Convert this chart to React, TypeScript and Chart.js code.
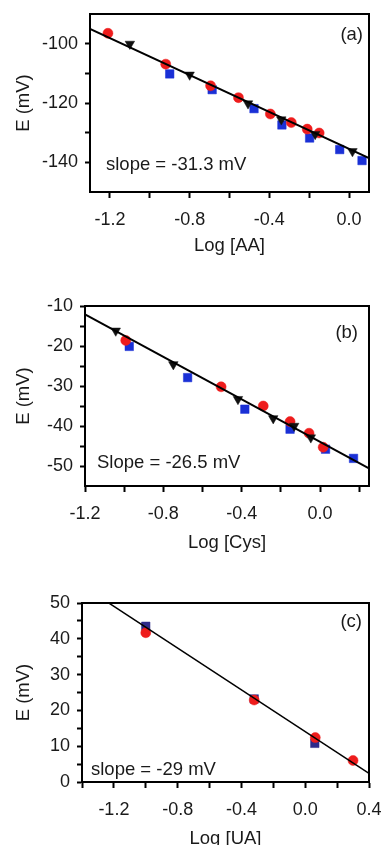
import React, { useEffect, useRef } from 'react';
import { Chart, registerables } from 'chart.js';

Chart.register(...registerables);

// ---------- Panel (a): Log [AA] ----------
const aaRedX = [-1.21, -0.92, -0.695, -0.555, -0.395, -0.29, -0.21, -0.15];
const aaRedY = [-96.5, -106.9, -114.2, -118.2, -123.7, -126.6, -128.8, -130.1];
const aaBlueX = [-0.9, -0.687, -0.477, -0.337, -0.198, -0.047, 0.065];
const aaBlueY = [-110.2, -115.5, -121.9, -127.4, -131.8, -135.7, -139.4];
const aaTriX = [-1.1, -0.8, -0.507, -0.34, -0.17, 0.017];
const aaTriY = [-100.1, -110.5, -120.2, -125.6, -130.5, -136.3];
const aaFitX = [-1.3, 0.1];
const aaFitY = [-95.0, -138.6];
const aaXTicks = [-1.2, -1.0, -0.8, -0.6, -0.4, -0.2, 0.0];
const aaXLabels = [-1.2, -0.8, -0.4, 0.0];
const aaYTicks = [-140, -130, -120, -110, -100];
const aaYLabels = [-140, -120, -100];

// ---------- Panel (b): Log [Cys] ----------
const cysRedX = [-0.992, -0.505, -0.29, -0.153, -0.056, 0.016];
const cysRedY = [-18.6, -30.2, -35.0, -38.9, -41.8, -45.3];
const cysBlueX = [-0.974, -0.676, -0.384, -0.153, 0.028, 0.171];
const cysBlueY = [-20.1, -27.9, -35.8, -40.8, -45.8, -48.1];
const cysTriX = [-1.043, -0.749, -0.419, -0.239, -0.132, -0.047];
const cysTriY = [-16.2, -24.6, -33.3, -38.1, -40.0, -42.9];
const cysFitX = [-1.2, 0.25];
const cysFitY = [-12.1, -50.6];
const cysXTicks = [-1.2, -1.0, -0.8, -0.6, -0.4, -0.2, 0.0, 0.2];
const cysXLabels = [-1.2, -0.8, -0.4, 0.0];
const cysYTicks = [-50, -45, -40, -35, -30, -25, -20, -15, -10];
const cysYLabels = [-50, -40, -30, -20, -10];

// ---------- Panel (c): Log [UA] ----------
const uaRedX = [-1.0, -0.32, 0.063, 0.3];
const uaRedY = [41.7, 22.9, 12.4, 6.0];
const uaBlueX = [-1.0, -0.32, 0.06];
const uaBlueY = [43.5, 23.2, 10.8];
const uaFitX = [-1.4, 0.4];
const uaFitY = [54.9, 2.4];
const uaXTicks = [-1.4, -1.2, -1.0, -0.8, -0.6, -0.4, -0.2, 0.0, 0.2, 0.4];
const uaXLabels = [-1.2, -0.8, -0.4, 0.0, 0.4];
const uaYTicks = [0, 5, 10, 15, 20, 25, 30, 35, 40, 45, 50];
const uaYLabels = [0, 10, 20, 30, 40, 50];

const FONT = "'Liberation Sans', Arial, sans-serif";
const TEXT = '#1a1a1a';
const RED = '#ee1c1c';
const BLUE = '#1a30d6';
const NAVY = '#2e2a8a';

const zip = (xs: number[], ys: number[]) => xs.map((x, i) => ({ x, y: ys[i] }));
const near = (a: number, list: number[]) => list.some((v) => Math.abs(v - a) < 1e-6);

type Series = { x: number[]; y: number[]; kind: 'circle' | 'square' | 'tri'; color: string };

type PanelProps = {
  top: number;
  height: number;
  padTop: number;
  yWidth: number;
  xHeight: number;
  xTitlePadBottom: number;
  xMin: number;
  xMax: number;
  yMin: number;
  yMax: number;
  xTicks: number[];
  xLabels: number[];
  yTicks: number[];
  yLabels: number[];
  xTitle: string;
  series: Series[];
  fitX: number[];
  fitY: number[];
  fitWidth: number;
  slopeText: string;
  slopeDx: number;
  slopeDy: number;
  tag: string;
  tagDx: number;
  tagDy: number;
};

function Panel(p: PanelProps) {
  const ref = useRef<HTMLCanvasElement | null>(null);
  useEffect(() => {
    if (!ref.current) return;
    const datasets: any[] = [
      {
        data: zip(p.fitX, p.fitY),
        showLine: true,
        borderColor: '#000',
        borderWidth: p.fitWidth,
        pointRadius: 0,
        fill: false,
      },
    ];
    const order = ['tri', 'circle', 'square'];
    const sorted = [...p.series].sort((a, b) => order.indexOf(a.kind) - order.indexOf(b.kind));
    for (const s of sorted) {
      datasets.push({
        data: zip(s.x, s.y),
        showLine: false,
        pointStyle: s.kind === 'circle' ? 'circle' : s.kind === 'square' ? 'rect' : 'triangle',
        pointRotation: s.kind === 'tri' ? 180 : 0,
        pointRadius: s.kind === 'circle' ? 5 : s.kind === 'square' ? 6 : 5.5,
        backgroundColor: s.color,
        borderColor: s.color,
        pointBorderWidth: 0.5,
      });
    }
    const annot = {
      id: 'annot',
      afterDraw(chart: any) {
        const { ctx, chartArea } = chart;
        ctx.save();
        ctx.strokeStyle = '#000';
        ctx.lineWidth = 2;
        ctx.strokeRect(chartArea.left, chartArea.top, chartArea.right - chartArea.left, chartArea.bottom - chartArea.top);
        ctx.fillStyle = TEXT;
        ctx.font = `18.5px ${FONT}`;
        ctx.textBaseline = 'middle';
        ctx.textAlign = 'left';
        ctx.fillText(p.slopeText, chartArea.left + p.slopeDx, chartArea.top + p.slopeDy);
        ctx.textAlign = 'right';
        ctx.fillText(p.tag, chartArea.right - p.tagDx, chartArea.top + p.tagDy);
        ctx.restore();
      },
    };
    const chart = new Chart(ref.current, {
      type: 'scatter',
      data: { datasets },
      plugins: [annot],
      options: {
        animation: false,
        responsive: false,
        devicePixelRatio: 1,
        events: [],
        layout: { padding: { top: p.padTop, right: 12, bottom: 0, left: 0 } },
        plugins: { legend: { display: false }, tooltip: { enabled: false } },
        scales: {
          x: {
            type: 'linear',
            min: p.xMin,
            max: p.xMax,
            afterBuildTicks: (scale: any) => {
              scale.ticks = p.xTicks.map((v) => ({ value: v }));
            },
            afterFit: (scale: any) => {
              scale.height = p.xHeight;
              scale.paddingLeft = 0;
              scale.paddingRight = 0;
            },
            ticks: {
              autoSkip: false,
              maxRotation: 0,
              padding: 11.5,
              color: TEXT,
              font: { family: FONT, size: 18 },
              callback: (v: any) => (near(Number(v), p.xLabels) ? Number(v).toFixed(1) : ''),
            },
            grid: {
              display: true,
              drawOnChartArea: false,
              drawTicks: true,
              tickLength: 6,
              tickWidth: 2,
              tickColor: '#000',
            },
            border: { display: true, color: '#000', width: 2 },
            title: {
              display: true,
              text: p.xTitle,
              color: TEXT,
              font: { family: FONT, size: 18.5 },
              padding: { top: 0, bottom: p.xTitlePadBottom },
            },
          },
          y: {
            type: 'linear',
            min: p.yMin,
            max: p.yMax,
            afterBuildTicks: (scale: any) => {
              scale.ticks = p.yTicks.map((v) => ({ value: v }));
            },
            afterFit: (scale: any) => {
              scale.width = p.yWidth;
              scale.paddingTop = 0;
              scale.paddingBottom = 0;
            },
            ticks: {
              autoSkip: false,
              padding: 7,
              color: TEXT,
              font: { family: FONT, size: 18 },
              callback: (v: any) => (near(Number(v), p.yLabels) ? String(Math.round(Number(v))) : ''),
            },
            grid: {
              display: true,
              drawOnChartArea: false,
              drawTicks: true,
              tickLength: 5,
              tickWidth: 2,
              tickColor: '#000',
            },
            border: { display: true, color: '#000', width: 2 },
            title: {
              display: true,
              text: 'E (mV)',
              color: TEXT,
              font: { family: FONT, size: 18.5 },
              padding: { top: 13, bottom: 0 },
            },
          },
        },
      } as any,
    });
    return () => chart.destroy();
  }, []);
  return (
    <canvas
      ref={ref}
      width={381}
      height={p.height}
      style={{ position: 'absolute', left: 0, top: p.top, width: 381, height: p.height, display: 'block' }}
    />
  );
}

export default function App() {
  useEffect(() => {
    document.body.style.margin = '0';
    document.body.style.background = '#fff';
  }, []);
  return (
    <div style={{ position: 'relative', width: 381, height: 845, overflow: 'hidden', background: '#fff' }}>
      <Panel
        top={0}
        height={265}
        padTop={14}
        yWidth={90}
        xHeight={73}
        xTitlePadBottom={8}
        xMin={-1.3}
        xMax={0.1}
        yMin={-150}
        yMax={-90}
        xTicks={aaXTicks}
        xLabels={aaXLabels}
        yTicks={aaYTicks}
        yLabels={aaYLabels}
        xTitle="Log [AA]"
        series={[
          { x: aaBlueX, y: aaBlueY, kind: 'square', color: BLUE },
          { x: aaRedX, y: aaRedY, kind: 'circle', color: RED },
          { x: aaTriX, y: aaTriY, kind: 'tri', color: '#111' },
        ]}
        fitX={aaFitX}
        fitY={aaFitY}
        fitWidth={2}
        slopeText="slope = -31.3 mV"
        slopeDx={16}
        slopeDy={151}
        tag="(a)"
        tagDx={6}
        tagDy={21}
      />
      <Panel
        top={265}
        height={290}
        padTop={41}
        yWidth={85}
        xHeight={69}
        xTitlePadBottom={1}
        xMin={-1.2}
        xMax={0.25}
        yMin={-55}
        yMax={-10}
        xTicks={cysXTicks}
        xLabels={cysXLabels}
        yTicks={cysYTicks}
        yLabels={cysYLabels}
        xTitle="Log [Cys]"
        series={[
          { x: cysBlueX, y: cysBlueY, kind: 'square', color: BLUE },
          { x: cysRedX, y: cysRedY, kind: 'circle', color: RED },
          { x: cysTriX, y: cysTriY, kind: 'tri', color: '#111' },
        ]}
        fitX={cysFitX}
        fitY={cysFitY}
        fitWidth={2}
        slopeText="Slope = -26.5 mV"
        slopeDx={12}
        slopeDy={157}
        tag="(b)"
        tagDx={11}
        tagDy={27}
      />
      <Panel
        top={555}
        height={300}
        padTop={48}
        yWidth={82}
        xHeight={73}
        xTitlePadBottom={5}
        xMin={-1.4}
        xMax={0.4}
        yMin={0}
        yMax={50}
        xTicks={uaXTicks}
        xLabels={uaXLabels}
        yTicks={uaYTicks}
        yLabels={uaYLabels}
        xTitle="Log [UA]"
        series={[
          { x: uaBlueX, y: uaBlueY, kind: 'square', color: NAVY },
          { x: uaRedX, y: uaRedY, kind: 'circle', color: RED },
        ]}
        fitX={uaFitX}
        fitY={uaFitY}
        fitWidth={1.5}
        slopeText="slope = -29 mV"
        slopeDx={9}
        slopeDy={167}
        tag="(c)"
        tagDx={7}
        tagDy={19}
      />
    </div>
  );
}
